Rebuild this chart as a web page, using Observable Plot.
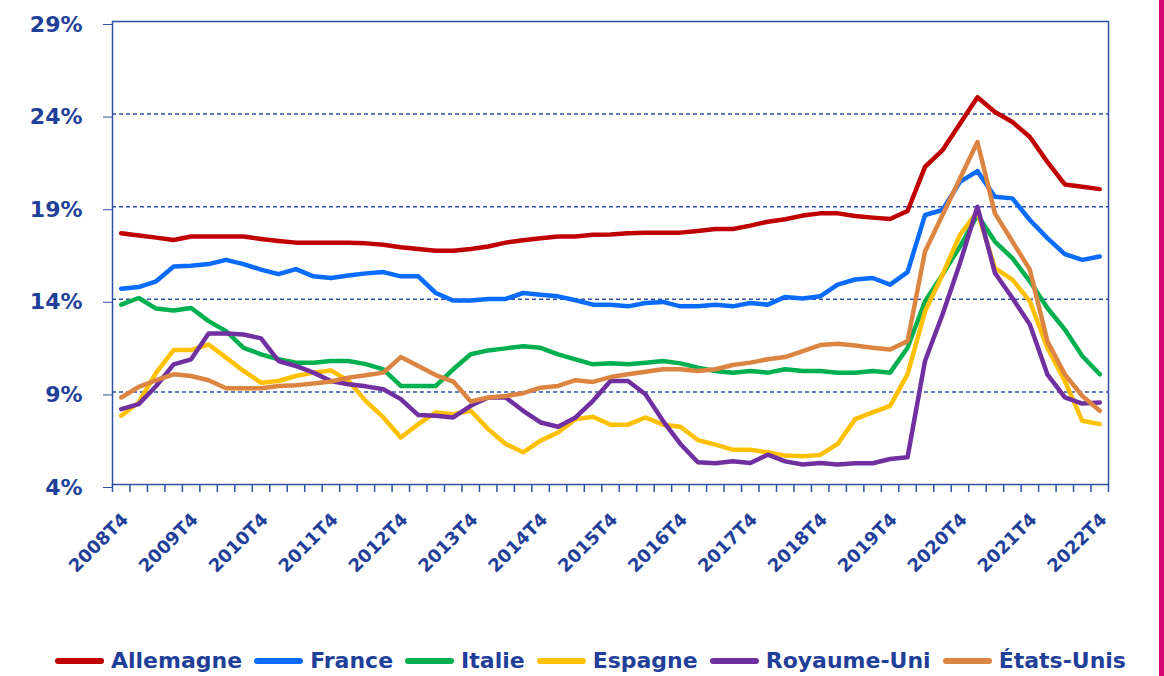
<!DOCTYPE html>
<html>
<head>
<meta charset="utf-8">
<script src="https://cdn.jsdelivr.net/npm/d3@7"></script>
<script src="https://cdn.jsdelivr.net/npm/@observablehq/plot@0.6"></script>
<style>
  html, body { margin: 0; padding: 0; background: #fff; }
  body { width: 1164px; height: 676px; position: relative; overflow: hidden; font-family: "DejaVu Sans", sans-serif; }
  #chart svg { display: block; }
  #legend { display: flex; align-items: center; height: 31px; padding-left: 55px; font-weight: bold; font-size: 22px; color: #1f3f99; }
  .item { display: flex; align-items: center; margin-right: 12px; }
  .sw { width: 49px; height: 6px; border-radius: 3px; margin-right: 7px; }
  #edge { position: absolute; left: 1159px; top: 0; width: 5px; height: 676px; background: #d4086f; }
</style>
</head>
<body>
<div id="chart"></div>
<div id="legend"></div>
<div id="edge"></div>
<script>
const quarters = d3.range(2008, 2023).flatMap(y => y === 2008 ? [`${y}T4`] : [`${y}T1`, `${y}T2`, `${y}T3`, `${y}T4`]);
const seriesNames = ["Allemagne", "France", "Italie", "Espagne", "Royaume-Uni", "États-Unis"];
const seriesColors = ["#c00000", "#0a6cff", "#00b050", "#ffc000", "#7030a0", "#dc8441"];
const yTicks = [4, 9, 14, 19, 24, 29];

const allemagne = [17.57,17.44,17.33,17.2,17.39,17.39,17.39,17.39,17.26,17.15,17.06,17.06,17.06,17.06,17.02,16.94,16.81,16.71,16.62,16.62,16.72,16.85,17.06,17.19,17.3,17.39,17.39,17.48,17.5,17.57,17.6,17.6,17.6,17.69,17.8,17.8,17.98,18.19,18.32,18.52,18.64,18.64,18.5,18.41,18.34,18.77,21.15,22.05,23.48,24.91,24.11,23.57,22.76,21.42,20.2,20.08,19.95];
const france = [14.57,14.66,14.97,15.77,15.81,15.9,16.13,15.9,15.6,15.36,15.63,15.24,15.15,15.29,15.4,15.47,15.24,15.24,14.34,13.93,13.93,14.02,14.02,14.34,14.25,14.16,13.95,13.71,13.7,13.62,13.8,13.86,13.62,13.62,13.71,13.62,13.8,13.71,14.13,14.04,14.16,14.79,15.07,15.15,14.79,15.47,18.55,18.82,20.34,20.92,19.54,19.45,18.28,17.3,16.44,16.13,16.31];
const italie = [13.71,14.07,13.5,13.39,13.53,12.82,12.28,11.38,11.03,10.76,10.58,10.58,10.67,10.67,10.5,10.22,9.32,9.32,9.32,10.22,11.03,11.24,11.35,11.47,11.38,11.03,10.76,10.49,10.55,10.49,10.58,10.67,10.54,10.31,10.13,10.04,10.13,10.04,10.22,10.13,10.13,10.04,10.04,10.13,10.04,11.38,13.89,15.33,16.85,18.55,17.12,16.22,14.97,13.53,12.37,10.94,9.95];
const espagne = [7.71,8.43,10.04,11.26,11.26,11.56,10.85,10.13,9.5,9.59,9.86,10.04,10.16,9.6,8.5,7.62,6.54,7.26,7.89,7.8,7.98,6.99,6.19,5.74,6.37,6.81,7.53,7.66,7.23,7.23,7.62,7.23,7.12,6.4,6.15,5.88,5.88,5.74,5.56,5.52,5.6,6.19,7.53,7.89,8.25,9.95,13.35,15.33,17.48,18.73,15.68,15.06,13.89,11.38,9.59,7.44,7.26];
const royaumeUni = [8.07,8.34,9.32,10.49,10.76,12.15,12.15,12.1,11.89,10.67,10.4,10.04,9.59,9.41,9.3,9.14,8.61,7.75,7.71,7.62,8.25,8.7,8.7,7.98,7.35,7.12,7.62,8.52,9.59,9.59,8.87,7.44,6.19,5.2,5.15,5.25,5.16,5.61,5.25,5.08,5.16,5.08,5.15,5.15,5.38,5.47,10.67,13.18,15.95,19.0,15.42,14.07,12.64,9.95,8.7,8.37,8.43];
const etatsUnis = [8.7,9.27,9.63,9.95,9.86,9.63,9.2,9.2,9.2,9.32,9.36,9.45,9.56,9.77,9.9,10.04,10.88,10.4,9.91,9.56,8.48,8.7,8.78,8.93,9.23,9.32,9.63,9.54,9.8,9.95,10.09,10.22,10.22,10.13,10.22,10.45,10.58,10.76,10.88,11.2,11.53,11.6,11.5,11.38,11.29,11.74,16.58,18.55,20.52,22.49,18.64,17.12,15.6,11.74,9.95,8.78,7.98];

const seriesValues = [allemagne, france, italie, espagne, royaumeUni, etatsUnis];
const rows = seriesNames.flatMap((name, s) => seriesValues[s].map((v, i) => ({name, i, v})));
const labelIdx = d3.range(0, quarters.length, 4);
const labelRows = labelIdx.map(i => ({i, label: quarters[i]}));

const textColor = "#1f3f99";
const axisColor = "#2f51a5";

const chart = Plot.plot({
  width: 1164,
  height: 645,
  marginLeft: 112,
  marginRight: 56,
  marginTop: 21,
  marginBottom: 161,
  style: {fontFamily: "DejaVu Sans, sans-serif", fontWeight: "bold", color: textColor, background: "white", overflow: "visible"},
  x: {type: "linear", domain: [-0.5, quarters.length - 0.5]},
  y: {domain: [4, 29]},
  color: {domain: seriesNames, range: seriesColors},
  marks: [
    Plot.ruleY([9, 14, 19, 24], {stroke: axisColor, strokeWidth: 1.5, strokeDasharray: "4,3"}),
    Plot.frame({stroke: axisColor, strokeWidth: 1.5}),
    Plot.axisY({ticks: yTicks, tickFormat: d => d + "%", tickSize: 9, tickPadding: 21, fontSize: 22, stroke: axisColor, fill: textColor, dy: 3, label: null}),
    Plot.axisX({ticks: d3.range(-0.5, quarters.length, 1), tickFormat: () => "", tickSize: 8, stroke: axisColor, strokeWidth: 1.5, label: null}),
    Plot.text(labelRows, {x: "i", frameAnchor: "bottom", text: "label", rotate: () => -45, textAnchor: "end", lineAnchor: "middle", fontSize: 18, fill: textColor, dx: 4, dy: 32}),
    Plot.line(rows, {x: "i", y: "v", z: "name", stroke: "name", strokeWidth: 4.5, strokeLinejoin: "round", strokeLinecap: "round"})
  ]
});
document.getElementById("chart").appendChild(chart);

const legend = document.getElementById("legend");
seriesNames.forEach((name, s) => {
  const item = document.createElement("div");
  item.className = "item";
  const sw = document.createElement("span");
  sw.className = "sw";
  sw.style.background = seriesColors[s];
  const t = document.createElement("span");
  t.textContent = name;
  item.appendChild(sw);
  item.appendChild(t);
  legend.appendChild(item);
});
</script>
</body>
</html>
